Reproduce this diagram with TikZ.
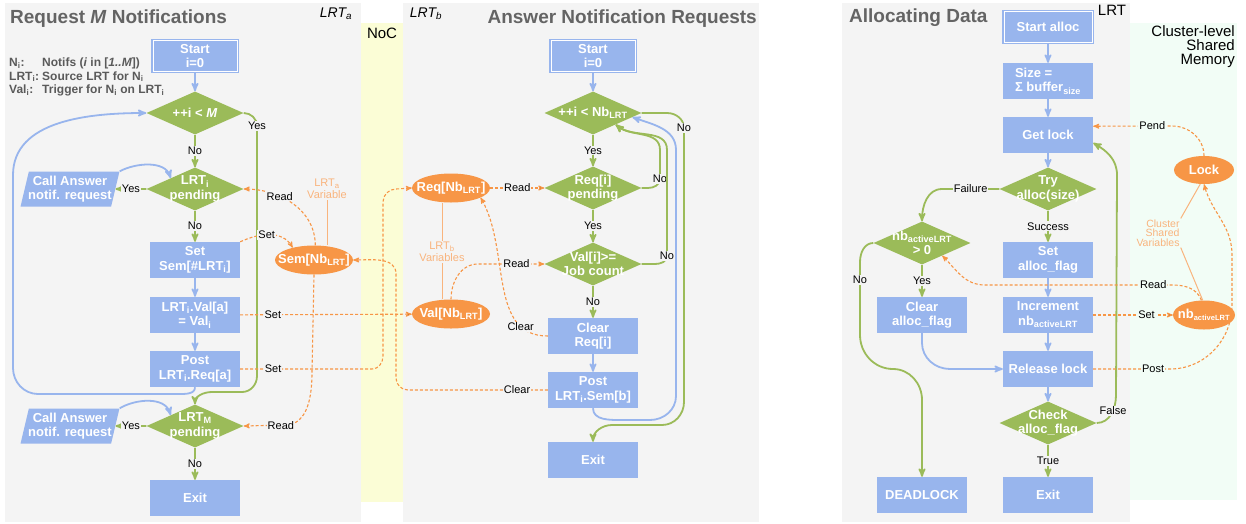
\documentclass[tikz,border=0pt]{standalone}
\usepackage{fontspec}
\setmainfont{Liberation Sans}
\usetikzlibrary{arrows,shapes.geometric,positioning}

\definecolor{boxblue}{RGB}{152,181,237}
\definecolor{testgreen}{RGB}{155,187,89}
\definecolor{varorange}{RGB}{247,150,70}
\definecolor{noteorange}{RGB}{249,180,125}
\definecolor{panelgray}{RGB}{244,244,244}
\definecolor{nocyellow}{RGB}{251,253,214}
\definecolor{memmint}{RGB}{242,253,246}
\definecolor{titlegray}{RGB}{100,100,100}
\definecolor{keygray}{RGB}{90,90,90}

\newcommand{\boxfont}{\fontsize{13}{14.5}\selectfont\bfseries}
\newcommand{\lblfont}{\fontsize{11}{12}\selectfont}

\begin{document}
\begin{tikzpicture}[x=1pt,y=-1pt,>=stealth',
    block node/.style={rectangle,fill=boxblue,text=white,font=\boxfont,minimum width=90pt,minimum height=36pt,inner sep=1pt,align=center},
    start node/.style={block node,draw=boxblue,double=white,double distance=1pt,line width=1.4pt,minimum width=84pt,minimum height=31pt},
    test node/.style={diamond,fill=testgreen,text=white,font=\boxfont,minimum width=97pt,minimum height=43pt,inner sep=-30pt,align=center},
    call node/.style={trapezium,trapezium left angle=74,trapezium right angle=106,trapezium stretches=true,fill=boxblue,text=white,font=\boxfont,minimum width=99pt,minimum height=35pt,inner xsep=-4pt,inner ysep=0pt,align=center},
    var node/.style={ellipse,fill=varorange,text=white,font=\boxfont,minimum width=78pt,minimum height=29pt,inner sep=-30pt},
    note/.style={text=noteorange,font=\lblfont,align=center,inner sep=1pt},
    lbl/.style={font=\lblfont,fill=panelgray,inner sep=1pt},
    mlbl/.style={lbl,fill=memmint},
    flow/.style={->,draw=boxblue,line width=1.8pt},
    test flow/.style={->,draw=testgreen,line width=1.8pt},
    var link/.style={->,draw=varorange,line width=1.1pt,dash pattern=on 3pt off 2pt},
    var line/.style={draw=noteorange,line width=1pt}]

    \useasboundingbox (0,0) rectangle (1246,523);
    \fill[panelgray] (5,3) rectangle (361,522);
    \fill[nocyellow] (361,23) rectangle (403,502);
    \fill[panelgray] (403,3) rectangle (759,522);
    \fill[panelgray] (842,3) rectangle (1130,522);
    \fill[memmint] (1130,23) rectangle (1237,500);

    \node[anchor=west,inner sep=0pt,text=titlegray,font=\fontsize{19}{22}\selectfont\bfseries] (t1) at (10,19) {Request \textit{M} Notifications};
    \node[anchor=east,inner sep=0pt,text=titlegray,font=\fontsize{19}{22}\selectfont\bfseries] (t2) at (757,19) {Answer Notification Requests};
    \node[anchor=west,inner sep=0pt,text=titlegray,font=\fontsize{19}{22}\selectfont\bfseries] (t3) at (849,18) {Allocating Data};
    \node[font=\fontsize{14}{16}\selectfont\itshape] (la) at (336,14) {LRT\textsubscript{a}};
    \node[font=\fontsize{14}{16}\selectfont\itshape] (lb) at (426,14) {LRT\textsubscript{b}};
    \node[font=\fontsize{15}{17}\selectfont] (noc) at (382,33) {NoC};
    \node[font=\fontsize{15}{17}\selectfont] (lc) at (1112,10) {LRT};
    \node[anchor=north east,align=right,inner sep=0pt,font=\fontsize{15}{14}\selectfont] (cm) at (1235,25) {Cluster-level\\Shared\\Memory};
    \node[anchor=north west,inner sep=0pt,text=keygray,font=\fontsize{12}{13.5}\selectfont\bfseries] (key) at (9,57)
        {\begin{tabular}{@{}l@{\hspace{3pt}}l@{}}
         N\textsubscript{i}: & Notifs (\textit{i} in [\textit{1..M}])\\
         LRT\textsubscript{i}: & Source LRT for N\textsubscript{i}\\
         Val\textsubscript{i}: & Trigger for N\textsubscript{i} on LRT\textsubscript{i}
         \end{tabular}};

    \node[start node] (a1) at (195,56) {Start\\i=0};
    \node[test node] (a2) [below of=a1,node distance=57pt] {++i < \textit{M}};
    \node[test node] (a3) [below of=a2,node distance=76pt] {LRT\textsubscript{i}\\pending};
    \node[block node] (a4) [below of=a3,node distance=71pt] {Set\\Sem[\#LRT\textsubscript{i}]};
    \node[block node] (a5) [below of=a4,node distance=55pt] {LRT\textsubscript{i}.Val[a]\\= Val\textsubscript{i}};
    \node[block node] (a6) [below of=a5,node distance=54pt] {Post\\LRT\textsubscript{i}.Req[a]};
    \node[test node] (a7) [below of=a6,node distance=57pt] {LRT\textsubscript{M}\\pending};
    \node[block node] (a8) [below of=a7,node distance=72pt] {Exit};
    \node[call node] (p1) [left of=a3,node distance=125pt] {Call Answer\\notif. request};
    \node[call node] (p2) [left of=a7,node distance=125pt] {Call Answer\\notif. request};
    \node[var node] (s1) [right of=a4,node distance=119pt] {Sem[Nb\textsubscript{LRT}]};
    \node[note] (v1) at (327,189) {LRT\textsubscript{a}\\Variable};

    \node[start node] (b1) at (593,56) {Start\\i=0};
    \node[test node] (b2) [below of=b1,node distance=57pt] {++i < Nb\textsubscript{LRT}};
    \node[test node] (b3) [below of=b2,node distance=75pt] {Req[i]\\pending};
    \node[test node] (b4) [below of=b3,node distance=76pt] {Val[i]>=\\Job count};
    \node[block node] (b5) [below of=b4,node distance=72pt] {Clear\\Req[i]};
    \node[block node] (b6) [below of=b5,node distance=54pt] {Post\\LRT\textsubscript{i}.Sem[b]};
    \node[block node] (b7) [below of=b6,node distance=70pt] {Exit};
    \node[var node] (r1) [left of=b3,node distance=142pt] {Req[Nb\textsubscript{LRT}]};
    \node[var node] (r2) [below of=r1,node distance=126pt] {Val[Nb\textsubscript{LRT}]};
    \node[note] (v2) at (442,252) {LRT\textsubscript{b}\\Variables};

    \node[start node,minimum width=88pt] (c1) at (1048,27) {Start alloc};
    \node[block node,align=left] (c2) [below of=c1,node distance=54pt] {Size =\\Σ buffer\textsubscript{size}};
    \node[block node] (c3) [below of=c2,node distance=54pt] {Get lock};
    \node[test node] (c4) [below of=c3,node distance=54pt] {Try\\alloc(size)};
    \node[block node] (c5) [below of=c4,node distance=71pt] {Set\\alloc\_flag};
    \node[block node] (c6) [below of=c5,node distance=55pt] {Increment\\nb\textsubscript{activeLRT}};
    \node[block node] (c7) [below of=c6,node distance=54pt] {Release lock};
    \node[test node] (c8) [below of=c7,node distance=54pt] {Check\\alloc\_flag};
    \node[block node] (c9) [below of=c8,node distance=72pt] {Exit};
    \node[test node] (d1) at (922,243) {nb\textsubscript{activeLRT}\\> 0};
    \node[block node] (d2) [below of=d1,node distance=72pt] {Clear\\alloc\_flag};
    \node[block node] (d3) [below of=d2,node distance=180pt] {DEADLOCK};
    \node[var node,minimum width=60pt,minimum height=28pt] (m1) at (1204,170) {Lock};
    \node[var node,minimum width=62pt] (m2) [right of=c6,node distance=156pt] {nb\textsubscript{\fontsize{7.5}{8}\selectfont activeLRT}};
    \node[note,align=right,font=\fontsize{10.5}{9.5}\selectfont] (v3) at (1158,233) {Cluster\\Shared\\Variables};

    \path[flow] (a1) edge (a2) (a4) edge (a5) (a5) edge (a6);
    \path[test flow]
        (a2) edge node[lbl] {No} (a3)
        (a3) edge node[lbl] {No} (a4)
        (a3) edge node[lbl] {Yes} (p1)
        (a7) edge node[lbl] {No} (a8)
        (a7) edge node[lbl] {Yes} (p2);
    \draw[flow] (a6.south) to[out=-90,in=0] (178,394) -- (38,394) to[out=180,in=-90] (13,368) -- (13,175) .. controls (13,120) and (90,113) .. (a2.west);
    \draw[flow] (p1.top right corner) .. controls (135,163) and (165,160) .. (a3.north west);
    \draw[flow] (p2.top right corner) .. controls (135,399) and (165,396) .. (a7.north west);
    \draw[test flow] (a2.east) to[out=0,in=90] (257,126) node[lbl] {Yes} -- (257,376) to[out=-90,in=0] (242,392) -- (212,392) to[out=180,in=90] (a7.north);

    \path[flow] (b1) edge (b2) (b5) edge (b6);
    \path[test flow]
        (b2) edge node[lbl] {Yes} (b3)
        (b3) edge node[lbl] {Yes} (b4)
        (b4) edge node[lbl] {No} (b5);
    \draw[flow] (b6.south) to[out=-90,in=180] (622,420) -- (650,420) to[out=0,in=-90] (676,396) -- (676,150) to[out=90,in=-20] (b2.-6);
    \draw[test flow] (b2.east) -- (667,113) to[out=0,in=90] (684,128) node[lbl] {No} -- (684,402) to[out=-90,in=0] (662,425) -- (612,425) to[out=180,in=90] (b7.north);
    \draw[test flow] (b3.east) -- (648,188) to[out=0,in=-90] (660,179) node[lbl] {No} -- (660,150) to[out=90,in=-40] (b2.-27);
    \draw[test flow] (b4.east) -- (655,264) to[out=0,in=-90] (667,256) node[lbl] {No} -- (667,150) to[out=90,in=-40] (b2.-27);

    \path[var link] (r1) edge node[lbl] {Read} (b3);
    \draw[var link] (r2.north) to[out=90,in=180] (478,264) -- node[lbl,pos=0.58] {Read} (b4.west);
    \draw[var link] (b5.west) to[out=180,in=-60] node[lbl,pos=0.2] {Clear} (r1.-18);
    \draw[var link] (a4.north east) to[out=25,in=120] node[lbl,pos=0.45] {Set} (s1.150);
    \draw[var link] (s1.85) to[out=90,in=0] node[lbl,pos=0.65] {Read} (a3.east);
    \draw[var link] (s1.south) -- (312,372) to[out=-90,in=0] (285,425) -- node[lbl,pos=0.1] {Read} (a7.east);
    \path[var link] (a5) edge node[lbl,pos=0.19] {Set} (r2);
    \draw[var link] (a6.east) -- node[lbl,pos=0.25] {Set} (372,369) to[out=0,in=-90] (383,356) -- (383,202) to[out=90,in=180] (396,189) -- (r1.west);
    \draw[var link] (b6.west) -- node[lbl,pos=0.22] {Clear} (408,390) to[out=180,in=-90] (396,378) -- (396,274) to[out=90,in=0] (s1.east);
    \draw[var line] (v1.south) -- (v1.south |- s1.north);
    \draw[var line] (v2.north |- r1.south) -- (v2.north);
    \draw[var line] (v2.south) -- (v2.south |- r2.north);

    \path[flow] (c1) edge (c2) (c2) edge (c3) (c3) edge (c4) (c5) edge (c6) (c6) edge (c7) (c7) edge (c8);
    \path[test flow]
        (c4) edge node[lbl] {Success} (c5)
        (c8) edge node[lbl] {True} (c9)
        (d1) edge node[lbl] {Yes} (d2);
    \draw[test flow] (c4.west) -- node[lbl] {Failure} (942,189) to[out=180,in=90] (d1.north);
    \draw[test flow] (d1.west) to[out=180,in=90] (860,262) -- node[lbl,pos=0.25] {No} (860,335) to[out=-90,in=180] (893,369) to[out=0,in=90] (922,400) -- (d3.north);
    \draw[flow] (d2.south) -- (922,343) to[out=-90,in=180] (950,369) -- (c7.west);
    \draw[test flow] (c8.east) to[out=0,in=-90] node[lbl,pos=0.6] {False} (1116,395) -- (1117,175) to[out=90,in=-30] (c3.-10);

    \path[var link] (c6) edge node[mlbl,pos=0.67] {Set} (m2);
    \draw[var link] (m1.north) to[out=90,in=0] (1172,126) -- node[mlbl,pos=0.25] {Pend} (c3.11);
    \draw[var link] (m2.100) to[out=110,in=0] (1172,285) -- node[mlbl,pos=0.1] {Read} (985,285) to[out=180,in=-45] (d1.-32);
    \draw[var link] (c7.east) -- node[mlbl,pos=0.78] {Post} (1170,369) to[out=0,in=-90] (1232,305) -- (1232,255) to[out=90,in=-75] (m1.south);
    \draw[var line] (v3.north east) -- (m1.255);
    \draw[var line] (v3.south east) -- (m2.95);
\end{tikzpicture}
\end{document}
